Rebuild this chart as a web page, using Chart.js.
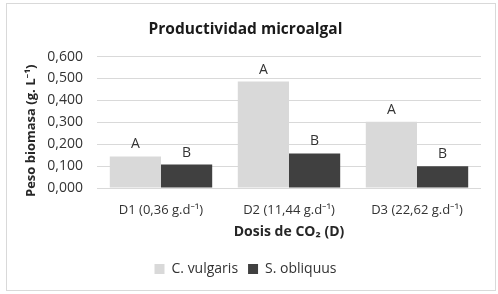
<!DOCTYPE html>
<html><head><meta charset="utf-8">
<script src="https://cdn.jsdelivr.net/npm/chart.js@4"></script>
<style>
html,body{margin:0;padding:0;background:#fff;}
#wrap{position:relative;width:498px;height:294px;}
#frame{position:absolute;left:6px;top:3px;width:490px;height:288px;border:1px solid #d9d9d9;box-sizing:border-box;}
canvas{position:absolute;left:0;top:0;}
</style></head>
<body><div id="wrap"><div id="frame"></div><canvas id="c" width="498" height="294"></canvas></div>
<script>
const categories = ['D1 (0,36 g.d\u207B\u00B9)', 'D2 (11,44 g.d\u207B\u00B9)', 'D3 (22,62 g.d\u207B\u00B9)'];
const seriesNames = ['C. vulgaris', 'S. obliquus'];
const cVulgaris = [0.144, 0.486, 0.302];
const sObliquus = [0.107, 0.158, 0.099];
const cLetters = ['A', 'A', 'A'];
const sLetters = ['B', 'B', 'B'];
const yTicks = [0, 0.1, 0.2, 0.3, 0.4, 0.5, 0.6];

const FONT = "'Open Sans', 'Noto Sans', sans-serif";
const TXT = '#333333';
const letterPlugin = {
  id: 'letters',
  afterDatasetsDraw(chart) {
    const ctx = chart.ctx;
    const sets = [cLetters, sLetters];
    ctx.save();
    ctx.font = "14px " + FONT;
    ctx.fillStyle = TXT;
    ctx.textAlign = 'center';
    ctx.textBaseline = 'middle';
    chart.data.datasets.forEach((ds, i) => {
      chart.getDatasetMeta(i).data.forEach((bar, j) => {
        ctx.fillText(sets[i][j], bar.x, bar.y - 12);
      });
    });
    ctx.restore();
  }
};

new Chart(document.getElementById('c'), {
  type: 'bar',
  data: {
    labels: categories,
    datasets: [
      { label: seriesNames[0], data: cVulgaris, backgroundColor: '#d9d9d9', borderWidth: 0 },
      { label: seriesNames[1], data: sObliquus, backgroundColor: '#404040', borderWidth: 0 }
    ]
  },
  options: {
    responsive: false,
    animation: false,
    layout: { padding: { left: 10, right: 17, top: 0, bottom: 8 } },
    datasets: { bar: { categoryPercentage: 0.8, barPercentage: 1.0 } },
    plugins: {
      title: {
        display: true, text: 'Productividad microalgal', color: '#1a1a1a',
        font: { family: FONT, size: 15.5, weight: 'bold' },
        padding: { top: 20, bottom: 18 }
      },
      legend: {
        position: 'bottom',
        labels: { color: TXT, font: { family: FONT, size: 14 }, boxWidth: 10, boxHeight: 10, padding: 10 }
      },
      tooltip: { enabled: false }
    },
    scales: {
      x: {
        afterFit(scale) { scale.height = 64; },
        grid: { display: false },
        border: { display: false },
        ticks: { color: TXT, font: { family: FONT, size: 13 }, padding: 6 },
        title: { display: true, text: 'Dosis de CO\u2082 (D)', color: '#262626',
          font: { family: FONT, size: 14, weight: 'bold' }, padding: { top: 0, bottom: 12 } }
      },
      y: {
        min: 0, max: 0.6,
        afterBuildTicks(scale) { scale.ticks = yTicks.map(v => ({ value: v })); },
        afterFit(scale) { scale.width = 87; },
        grid: { color: '#d9d9d9', drawTicks: false },
        border: { display: false },
        ticks: { color: TXT, font: { family: FONT, size: 14 }, padding: 14,
          callback: v => v.toFixed(3).replace('.', ',') },
        title: { display: true, text: 'Peso biomasa (g. L\u207B\u00B9)\u00A0\u00A0\u00A0\u00A0\u00A0', color: '#262626',
          font: { family: FONT, size: 13, weight: 'bold' }, padding: { top: 13, bottom: 0 } }
      }
    }
  },
  plugins: [letterPlugin]
});
</script></body></html>
